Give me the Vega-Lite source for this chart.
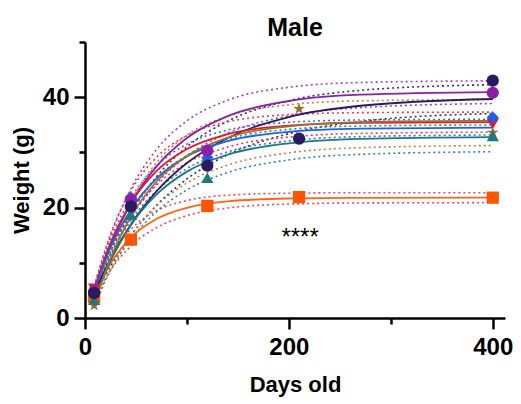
{
  "$schema": "https://vega.github.io/schema/vega-lite/v6.json",
  "width": 420,
  "height": 276,
  "autosize": "none",
  "padding": {"left": 85, "top": 42, "right": 16, "bottom": 86},
  "background": "white",
  "title": {"text": "Male", "fontSize": 25, "font": "Liberation Sans", "fontWeight": "bold", "color": "black", "anchor": "middle", "offset": 6, "dy": 17},
  "config": {"view": {"stroke": null}},
  "datasets": {
    "fit": [
      {"s":"orange","x":9,"y":4},{"s":"orange","x":25,"y":9.87},{"s":"orange","x":45,"y":14.56},{"s":"orange","x":70,"y":17.92},{"s":"orange","x":100,"y":19.97},{"s":"orange","x":140,"y":21.13},{"s":"orange","x":200,"y":21.65},{"s":"orange","x":270,"y":21.77},{"s":"orange","x":400,"y":21.8},
      {"s":"purple","x":9,"y":5},{"s":"purple","x":25,"y":13.14},{"s":"purple","x":45,"y":20.77},{"s":"purple","x":70,"y":27.43},{"s":"purple","x":100,"y":32.61},{"s":"purple","x":140,"y":36.57},{"s":"purple","x":200,"y":39.31},{"s":"purple","x":270,"y":40.45},{"s":"purple","x":400,"y":40.93},
      {"s":"navy","x":9,"y":4.5},{"s":"navy","x":25,"y":10.71},{"s":"navy","x":45,"y":16.96},{"s":"navy","x":70,"y":22.92},{"s":"navy","x":100,"y":28.07},{"s":"navy","x":140,"y":32.62},{"s":"navy","x":200,"y":36.41},{"s":"navy","x":270,"y":38.45},{"s":"navy","x":400,"y":39.67},
      {"s":"red","x":9,"y":5.3},{"s":"red","x":25,"y":13.57},{"s":"red","x":45,"y":20.79},{"s":"red","x":70,"y":26.59},{"s":"red","x":100,"y":30.61},{"s":"red","x":140,"y":33.3},{"s":"red","x":200,"y":34.84},{"s":"red","x":270,"y":35.34},{"s":"red","x":400,"y":35.49},
      {"s":"blue","x":9,"y":5},{"s":"blue","x":25,"y":12.73},{"s":"blue","x":45,"y":19.6},{"s":"blue","x":70,"y":25.24},{"s":"blue","x":100,"y":29.28},{"s":"blue","x":140,"y":32.05},{"s":"blue","x":200,"y":33.72},{"s":"blue","x":270,"y":34.29},{"s":"blue","x":400,"y":34.48},
      {"s":"teal","x":9,"y":3.3},{"s":"teal","x":25,"y":10.32},{"s":"teal","x":45,"y":16.81},{"s":"teal","x":70,"y":22.34},{"s":"teal","x":100,"y":26.52},{"s":"teal","x":140,"y":29.61},{"s":"teal","x":200,"y":31.65},{"s":"teal","x":270,"y":32.45},{"s":"teal","x":400,"y":32.76},
      {"s":"brown","x":9,"y":2.5},{"s":"brown","x":25,"y":10.82},{"s":"brown","x":45,"y":18.38},{"s":"brown","x":70,"y":24.68},{"s":"brown","x":100,"y":29.34},{"s":"brown","x":140,"y":32.65},{"s":"brown","x":200,"y":34.73},{"s":"brown","x":270,"y":35.5},{"s":"brown","x":400,"y":35.77}
    ],
    "bands": [
      {"s":"orange","b":"hi","x":9,"y":4.5},{"s":"orange","b":"hi","x":25,"y":11.07},{"s":"orange","b":"hi","x":45,"y":16.06},{"s":"orange","b":"hi","x":70,"y":19.41},{"s":"orange","b":"hi","x":100,"y":21.28},{"s":"orange","b":"hi","x":140,"y":22.24},{"s":"orange","b":"hi","x":200,"y":22.61},{"s":"orange","b":"hi","x":270,"y":22.7},{"s":"orange","b":"hi","x":400,"y":22.7},
      {"s":"orange","b":"lo","x":9,"y":3.5},{"s":"orange","b":"lo","x":25,"y":8.67},{"s":"orange","b":"lo","x":45,"y":13.02},{"s":"orange","b":"lo","x":70,"y":16.36},{"s":"orange","b":"lo","x":100,"y":18.55},{"s":"orange","b":"lo","x":140,"y":19.93},{"s":"orange","b":"lo","x":200,"y":20.64},{"s":"orange","b":"lo","x":270,"y":20.84},{"s":"orange","b":"lo","x":400,"y":20.9},
      {"s":"purple","b":"hi","x":9,"y":5.5},{"s":"purple","b":"hi","x":25,"y":14.9},{"s":"purple","b":"hi","x":45,"y":23.4},{"s":"purple","b":"hi","x":70,"y":30.5},{"s":"purple","b":"hi","x":100,"y":35.72},{"s":"purple","b":"hi","x":140,"y":39.45},{"s":"purple","b":"hi","x":200,"y":41.8},{"s":"purple","b":"hi","x":270,"y":42.66},{"s":"purple","b":"hi","x":400,"y":42.97},
      {"s":"purple","b":"lo","x":9,"y":4.5},{"s":"purple","b":"lo","x":25,"y":11.43},{"s":"purple","b":"lo","x":45,"y":18.16},{"s":"purple","b":"lo","x":70,"y":24.3},{"s":"purple","b":"lo","x":100,"y":29.34},{"s":"purple","b":"lo","x":140,"y":33.48},{"s":"purple","b":"lo","x":200,"y":36.62},{"s":"purple","b":"lo","x":270,"y":38.11},{"s":"purple","b":"lo","x":400,"y":38.86},
      {"s":"navy","b":"hi","x":9,"y":5},{"s":"navy","b":"hi","x":25,"y":12.05},{"s":"navy","b":"hi","x":45,"y":19.02},{"s":"navy","b":"hi","x":70,"y":25.55},{"s":"navy","b":"hi","x":100,"y":31.02},{"s":"navy","b":"hi","x":140,"y":35.67},{"s":"navy","b":"hi","x":200,"y":39.37},{"s":"navy","b":"hi","x":270,"y":41.24},{"s":"navy","b":"hi","x":400,"y":42.27},
      {"s":"navy","b":"lo","x":9,"y":4},{"s":"navy","b":"lo","x":25,"y":9.39},{"s":"navy","b":"lo","x":45,"y":14.95},{"s":"navy","b":"lo","x":70,"y":20.38},{"s":"navy","b":"lo","x":100,"y":25.19},{"s":"navy","b":"lo","x":140,"y":29.57},{"s":"navy","b":"lo","x":200,"y":33.4},{"s":"navy","b":"lo","x":270,"y":35.6},{"s":"navy","b":"lo","x":400,"y":37.05},
      {"s":"red","b":"hi","x":9,"y":5.8},{"s":"red","b":"hi","x":25,"y":15.16},{"s":"red","b":"hi","x":45,"y":23.03},{"s":"red","b":"hi","x":70,"y":29.08},{"s":"red","b":"hi","x":100,"y":33.05},{"s":"red","b":"hi","x":140,"y":35.54},{"s":"red","b":"hi","x":200,"y":36.83},{"s":"red","b":"hi","x":270,"y":37.2},{"s":"red","b":"hi","x":400,"y":37.3},
      {"s":"red","b":"lo","x":9,"y":4.8},{"s":"red","b":"lo","x":25,"y":12.02},{"s":"red","b":"lo","x":45,"y":18.59},{"s":"red","b":"lo","x":70,"y":24.05},{"s":"red","b":"lo","x":100,"y":28.09},{"s":"red","b":"lo","x":140,"y":30.97},{"s":"red","b":"lo","x":200,"y":32.78},{"s":"red","b":"lo","x":270,"y":33.44},{"s":"red","b":"lo","x":400,"y":33.67},
      {"s":"blue","b":"hi","x":9,"y":5.5},{"s":"blue","b":"hi","x":25,"y":14.19},{"s":"blue","b":"hi","x":45,"y":21.66},{"s":"blue","b":"hi","x":70,"y":27.52},{"s":"blue","b":"hi","x":100,"y":31.49},{"s":"blue","b":"hi","x":140,"y":34.05},{"s":"blue","b":"hi","x":200,"y":35.45},{"s":"blue","b":"hi","x":270,"y":35.87},{"s":"blue","b":"hi","x":400,"y":36},
      {"s":"blue","b":"lo","x":9,"y":4.5},{"s":"blue","b":"lo","x":25,"y":11.33},{"s":"blue","b":"lo","x":45,"y":17.64},{"s":"blue","b":"lo","x":70,"y":23.03},{"s":"blue","b":"lo","x":100,"y":27.09},{"s":"blue","b":"lo","x":140,"y":30.1},{"s":"blue","b":"lo","x":200,"y":32.08},{"s":"blue","b":"lo","x":270,"y":32.86},{"s":"blue","b":"lo","x":400,"y":33.16},
      {"s":"teal","b":"hi","x":9,"y":3.8},{"s":"teal","b":"hi","x":25,"y":11.97},{"s":"teal","b":"hi","x":45,"y":19.24},{"s":"teal","b":"hi","x":70,"y":25.2},{"s":"teal","b":"hi","x":100,"y":29.48},{"s":"teal","b":"hi","x":140,"y":32.41},{"s":"teal","b":"hi","x":200,"y":34.17},{"s":"teal","b":"hi","x":270,"y":34.78},{"s":"teal","b":"hi","x":400,"y":34.98},
      {"s":"teal","b":"lo","x":9,"y":2.8},{"s":"teal","b":"lo","x":25,"y":8.64},{"s":"teal","b":"lo","x":45,"y":14.23},{"s":"teal","b":"lo","x":70,"y":19.23},{"s":"teal","b":"lo","x":100,"y":23.21},{"s":"teal","b":"lo","x":140,"y":26.36},{"s":"teal","b":"lo","x":200,"y":28.64},{"s":"teal","b":"lo","x":270,"y":29.65},{"s":"teal","b":"lo","x":400,"y":30.12},
      {"s":"brown","b":"hi","x":9,"y":3},{"s":"brown","b":"hi","x":25,"y":12.59},{"s":"brown","b":"hi","x":45,"y":21.12},{"s":"brown","b":"hi","x":70,"y":28.11},{"s":"brown","b":"hi","x":100,"y":33.12},{"s":"brown","b":"hi","x":140,"y":36.56},{"s":"brown","b":"hi","x":200,"y":38.63},{"s":"brown","b":"hi","x":270,"y":39.34},{"s":"brown","b":"hi","x":400,"y":39.58},
      {"s":"brown","b":"lo","x":9,"y":2},{"s":"brown","b":"lo","x":25,"y":8.62},{"s":"brown","b":"lo","x":45,"y":14.83},{"s":"brown","b":"lo","x":70,"y":20.25},{"s":"brown","b":"lo","x":100,"y":24.47},{"s":"brown","b":"lo","x":140,"y":27.7},{"s":"brown","b":"lo","x":200,"y":29.92},{"s":"brown","b":"lo","x":270,"y":30.85},{"s":"brown","b":"lo","x":400,"y":31.24}
    ],
    "pts": [
      {"s":"orange","x":9,"y":3.8},{"s":"orange","x":45,"y":14.2},{"s":"orange","x":120,"y":20.3},{"s":"orange","x":210,"y":21.9},{"s":"orange","x":400,"y":21.8},
      {"s":"brown","x":9,"y":2.3},{"s":"brown","x":210,"y":37.9},{"s":"brown","x":400,"y":33.6},
      {"s":"teal","x":9,"y":3.3},{"s":"teal","x":45,"y":18.7},{"s":"teal","x":120,"y":25.4},{"s":"teal","x":400,"y":33.0},
      {"s":"red","x":9,"y":5.3},{"s":"red","x":400,"y":35.2},
      {"s":"blue","x":9,"y":5.0},{"s":"blue","x":45,"y":21.8},{"s":"blue","x":120,"y":29.0},{"s":"blue","x":400,"y":36.3},
      {"s":"purple","x":9,"y":4.8},{"s":"purple","x":45,"y":21.5},{"s":"purple","x":120,"y":30.3},{"s":"purple","x":400,"y":40.8},
      {"s":"navy","x":9,"y":4.5},{"s":"navy","x":45,"y":20.2},{"s":"navy","x":120,"y":27.6},{"s":"navy","x":210,"y":32.5},{"s":"navy","x":400,"y":43.0}
    ],
    "sig": [{"x":211,"y":14.5,"t":"****"}]
  },
  "layer": [
    {
      "data": {"name": "bands"},
      "mark": {"type": "line", "interpolate": "monotone", "strokeDash": [2, 3], "strokeWidth": 1.6},
      "encoding": {
        "x": {"field": "x", "type": "quantitative", "scale": {"domain": [0, 412], "nice": false},
          "axis": {"values": [0, 100, 200, 300, 400], "labelExpr": "datum.value % 200 === 0 ? datum.label : ''", "title": "Days old",
            "domainColor": "black", "domainWidth": 2.5, "tickColor": "black", "tickWidth": 2.5,
            "tickSize": {"condition": {"test": "datum.value % 200 !== 0", "value": 6}, "value": 11},
            "labelFont": "Liberation Sans", "labelFontWeight": "bold", "labelFontSize": 24, "labelColor": "black", "labelPadding": 6,
            "titleFont": "Liberation Sans", "titleFontWeight": "bold", "titleFontSize": 22, "titleColor": "black", "titlePadding": 15,
            "grid": false, "labelFlush": false, "labelOverlap": false}},
        "y": {"field": "y", "type": "quantitative", "scale": {"domain": [0, 50], "nice": false},
          "axis": {"values": [0, 10, 20, 30, 40, 50], "labelExpr": "datum.value % 20 === 0 ? datum.label : ''", "title": "Weight (g)",
            "domainColor": "black", "domainWidth": 2.5, "tickColor": "black", "tickWidth": 2.5,
            "tickSize": {"condition": {"test": "datum.value % 20 !== 0", "value": 6}, "value": 11},
            "labelFont": "Liberation Sans", "labelFontWeight": "bold", "labelFontSize": 24, "labelColor": "black", "labelPadding": 5,
            "titleFont": "Liberation Sans", "titleFontWeight": "bold", "titleFontSize": 22, "titleColor": "black", "titlePadding": 9,
            "grid": false, "labelFlush": false, "labelOverlap": false}},
        "color": {"field": "s", "type": "nominal", "legend": null,
          "scale": {"domain": ["orange", "navy", "purple", "red", "blue", "teal", "brown"],
            "range": ["#F0445E", "#3B2C75", "#A040C8", "#F03848", "#3A6CE8", "#2E8C90", "#B8893F"]}},
        "detail": {"field": "b", "type": "nominal"}
      }
    },
    {
      "data": {"name": "fit"},
      "mark": {"type": "line", "interpolate": "monotone", "strokeWidth": 1.8},
      "encoding": {
        "x": {"field": "x", "type": "quantitative"},
        "y": {"field": "y", "type": "quantitative"},
        "color": {"field": "s", "type": "nominal", "legend": null,
          "scale": {"domain": ["orange", "navy", "purple", "red", "blue", "teal", "brown"],
            "range": ["#FF6619", "#2A1B5E", "#8A1FA8", "#E8141E", "#2060E8", "#1B7A7E", "#A0702E"]}}
      }
    },
    {
      "data": {"name": "pts"},
      "mark": {"type": "point", "filled": true, "opacity": 1, "size": 150},
      "encoding": {
        "x": {"field": "x", "type": "quantitative"},
        "y": {"field": "y", "type": "quantitative"},
        "color": {"field": "s", "type": "nominal", "legend": null,
          "scale": {"domain": ["orange", "navy", "purple", "red", "blue", "teal", "brown"],
            "range": ["#FF5500", "#2A1B5E", "#8A1FA8", "#E8141E", "#1F5FF0", "#1B7A7E", "#9B6A2A"]}},
        "shape": {"field": "s", "type": "nominal", "legend": null,
          "scale": {"domain": ["orange", "navy", "purple", "red", "blue", "teal", "brown"],
            "range": ["square", "circle", "circle", "triangle-down", "diamond", "triangle-up", "M0,-1L0.2245,-0.309L0.951,-0.309L0.363,0.118L0.588,0.809L0,0.382L-0.588,0.809L-0.363,0.118L-0.951,-0.309L-0.2245,-0.309Z"]}}
      }
    },
    {
      "data": {"name": "sig"},
      "mark": {"type": "text", "font": "Liberation Sans", "fontSize": 24, "color": "black", "baseline": "middle", "align": "center"},
      "encoding": {
        "x": {"field": "x", "type": "quantitative"},
        "y": {"field": "y", "type": "quantitative"},
        "text": {"field": "t"}
      }
    }
  ],
  "resolve": {"scale": {"color": "independent", "shape": "independent"}}
}
